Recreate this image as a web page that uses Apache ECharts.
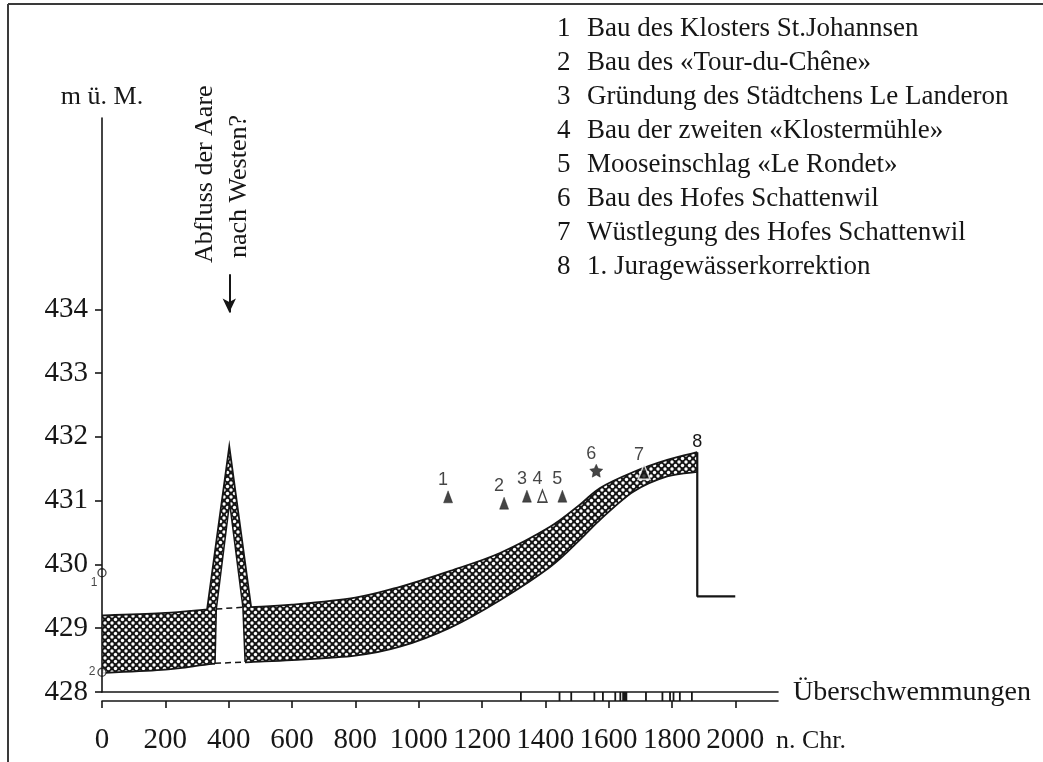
<!DOCTYPE html>
<html><head><meta charset="utf-8">
<script src="https://cdn.jsdelivr.net/npm/echarts@6/dist/echarts.min.js"></script>
<style>html,body{margin:0;padding:0;background:#fff}#c{width:1043px;height:762px}</style>
</head><body><div id="c"></div>
<script>
// ---------- data ----------
const bandYears = [0, 200, 350, 470, 600, 800, 941, 1100, 1257, 1415, 1510, 1573, 1678, 1785, 1880];
const bandLower = [428.30, 428.35, 428.44, 428.47, 428.50, 428.57, 428.71, 429.01, 429.44, 429.96, 430.39, 430.70, 431.14, 431.38, 431.45];
const bandUpper = [429.20, 429.24, 429.30, 429.33, 429.37, 429.48, 429.65, 429.90, 430.18, 430.59, 430.94, 431.20, 431.45, 431.64, 431.76];
const peakOuter = [[332, 429.30], [402, 431.85], [471, 429.33]];
const peakInner = [[357, 428.45], [361, 429.30], [403, 430.97], [445, 429.33], [452, 428.47]];
const stepLine = [[1880, 431.76], [1880, 429.50], [2000, 429.50]];
const eventYears = [1093, 1270, 1342, 1391, 1454, 1561, 1712];
const eventLevels = [431.06, 430.96, 431.07, 431.07, 431.07, 431.47, 431.45];
const eventNums = ['1', '2', '3', '4', '5', '6', '7'];
const eventKinds = ['filled', 'filled', 'filled', 'open', 'filled', 'star', 'filled'];
const axisMarkLevels = [429.87, 428.31];
const axisMarkNums = ['1', '2'];
const floodYears = [1323, 1445, 1482, 1555, 1582, 1621, 1637, 1718, 1770, 1794, 1805, 1825, 1863];
const floodPeriods = [[1643, 1659]];
const yTicks = [428, 429, 430, 431, 432, 433, 434];
const xTicks = [0, 200, 400, 600, 800, 1000, 1200, 1400, 1600, 1800, 2000];
const legendLines = [
  'Bau des Klosters St.Johannsen',
  'Bau des «Tour-du-Chêne»',
  'Gründung des Städtchens Le Landeron',
  'Bau der zweiten «Klostermühle»',
  'Mooseinschlag «Le Rondet»',
  'Bau des Hofes Schattenwil',
  'Wüstlegung des Hofes Schattenwil',
  '1. Juragewässerkorrektion'
];
const arrowYear = 402, arrowFrom = 434.55, arrowTo = 433.95;

// ---------- styles ----------
const INK = '#161616';
const SERIF = '"Liberation Serif", "DejaVu Serif", serif';
const SANS = '"Liberation Sans", Arial, sans-serif';

function makePattern() {
  const c = document.createElement('canvas');
  c.width = 7; c.height = 7;
  const g = c.getContext('2d');
  g.fillStyle = INK; g.fillRect(0, 0, 7, 7);
  g.fillStyle = '#fff';
  [[0, 0], [7, 0], [0, 7], [7, 7], [3.5, 3.5]].forEach(([x, y]) => {
    g.beginPath(); g.arc(x, y, 1.7, 0, Math.PI * 2); g.fill();
  });
  return c;
}
const hatch = { image: makePattern(), repeat: 'repeat' };
const STAR = 'path://M0,-10 L2.9,-4 L9.5,-3.1 L4.7,1.5 L5.9,8.1 L0,5 L-5.9,8.1 L-4.7,1.5 L-9.5,-3.1 L-2.9,-4 Z';

// smooth curve through pixel points (Catmull-Rom as cubic Bezier)
function splinePath(pts, start) {
  let d = (start ? 'M' : 'L') + pts[0][0] + ',' + pts[0][1];
  for (let i = 0; i < pts.length - 1; i++) {
    const p0 = pts[Math.max(i - 1, 0)], p1 = pts[i], p2 = pts[i + 1], p3 = pts[Math.min(i + 2, pts.length - 1)];
    const c1 = [p1[0] + (p2[0] - p0[0]) / 6, p1[1] + (p2[1] - p0[1]) / 6];
    const c2 = [p2[0] - (p3[0] - p1[0]) / 6, p2[1] - (p3[1] - p1[1]) / 6];
    d += ' C' + c1[0] + ',' + c1[1] + ' ' + c2[0] + ',' + c2[1] + ' ' + p2[0] + ',' + p2[1];
  }
  return d;
}

const chart = echarts.init(document.getElementById('c'), null, { renderer: 'canvas' });

const graphics = [
  { type: 'line', shape: { x1: 8, y1: 4, x2: 8, y2: 762 }, style: { stroke: '#3a3a3a', lineWidth: 2 } },
  { type: 'line', shape: { x1: 8, y1: 4, x2: 1043, y2: 4 }, style: { stroke: '#3a3a3a', lineWidth: 2 } },
  { type: 'text', x: 205, y: 263, rotation: Math.PI / 2,
    style: { text: 'Abfluss der Aare', font: '26px ' + SERIF, fill: INK, textAlign: 'left', textVerticalAlign: 'middle' } },
  { type: 'text', x: 239, y: 258, rotation: Math.PI / 2,
    style: { text: 'nach Westen?', font: '26px ' + SERIF, fill: INK, textAlign: 'left', textVerticalAlign: 'middle' } },
  { type: 'text', x: 793, y: 693,
    style: { text: 'Überschwemmungen', font: '28px ' + SERIF, fill: INK, textAlign: 'left', textVerticalAlign: 'middle' } },
  { type: 'text', x: 776, y: 741,
    style: { text: 'n. Chr.', font: '26px ' + SERIF, fill: INK, textAlign: 'left', textVerticalAlign: 'middle' } }
];
legendLines.forEach((t, i) => {
  graphics.push({ type: 'text', x: 557, y: 29 + i * 34,
    style: { text: String(i + 1), font: '27px ' + SERIF, fill: INK, textAlign: 'left', textVerticalAlign: 'middle' } });
  graphics.push({ type: 'text', x: 587, y: 29 + i * 34,
    style: { text: t, font: '27px ' + SERIF, fill: INK, textAlign: 'left', textVerticalAlign: 'middle' } });
});

const lineW = 1.8;

const option = {
  animation: false,
  backgroundColor: '#fff',
  graphic: graphics,
  grid: [
    { left: 102, top: 118, width: 676, height: 574 },
    { left: 102, top: 692, width: 676, height: 9 }
  ],
  xAxis: [
    { type: 'value', gridIndex: 0, min: 0, max: 2135, interval: 200, z: 10,
      axisLine: { show: true, lineStyle: { color: INK, width: 1.6 } },
      axisTick: { show: false }, axisLabel: { show: false }, splitLine: { show: false } },
    { type: 'value', gridIndex: 1, min: 0, max: 2135, interval: 200, z: 10,
      axisLine: { show: true, lineStyle: { color: INK, width: 1.6 } },
      axisTick: { show: true, length: 7, customValues: xTicks, lineStyle: { color: INK, width: 1.6 } },
      axisLabel: { show: true, customValues: xTicks, margin: 25, color: INK, fontSize: 29, fontFamily: SERIF,
                   formatter: v => String(v) },
      splitLine: { show: false } }
  ],
  yAxis: [
    { type: 'value', gridIndex: 0, min: 428, max: 437, interval: 1, z: 10,
      name: 'm ü. M.', nameLocation: 'end', nameGap: 21,
      nameTextStyle: { color: INK, fontSize: 26, fontFamily: SERIF, align: 'center', verticalAlign: 'middle' },
      axisLine: { show: true, lineStyle: { color: INK, width: 1.6 } },
      axisTick: { show: true, length: 7, customValues: yTicks, lineStyle: { color: INK, width: 1.6 } },
      axisLabel: { show: true, customValues: yTicks, margin: 14, color: INK, fontSize: 29, fontFamily: SERIF,
                   formatter: v => String(v) },
      splitLine: { show: false } },
    { type: 'value', gridIndex: 1, min: 0, max: 1, show: false }
  ],
  series: [
    { type: 'custom', name: 'band', xAxisIndex: 0, yAxisIndex: 0, z: 2, silent: true,
      data: [[bandYears[0], bandUpper[0]]],
      renderItem: function (params, api) {
        const up = bandYears.map((x, i) => api.coord([x, bandUpper[i]]));
        const lo = bandYears.map((x, i) => api.coord([x, bandLower[i]]));
        const fillD = splinePath(up, true) + ' ' + splinePath(lo.slice().reverse(), false) + ' Z';
        return { type: 'group', children: [
          { type: 'path', shape: { pathData: fillD }, style: { fill: hatch, stroke: null } },
          { type: 'path', shape: { pathData: splinePath(up, true) }, style: { fill: 'none', stroke: INK, lineWidth: lineW } },
          { type: 'path', shape: { pathData: splinePath(lo, true) }, style: { fill: 'none', stroke: INK, lineWidth: lineW } }
        ] };
      } },
    { type: 'custom', name: 'peak', xAxisIndex: 0, yAxisIndex: 0, z: 3, silent: true,
      data: [[peakOuter[1][0], peakOuter[1][1]]],
      renderItem: function (params, api) {
        const P = p => api.coord(p);
        const o = peakOuter, n = peakInner;
        const outerPoly = [P([o[0][0], o[0][1] - 0.06]), P(o[0]), P(o[1]), P(o[2]), P([o[2][0], o[2][1] - 0.06])];
        const innerPoly = [P([n[0][0], n[0][1] - 0.05]), P(n[1]), P(n[2]), P(n[3]), P([n[4][0], n[4][1] - 0.05])];
        return { type: 'group', children: [
          { type: 'polygon', shape: { points: outerPoly }, style: { fill: hatch, stroke: null } },
          { type: 'polyline', shape: { points: [P(o[0]), P(o[1]), P(o[2])] }, style: { stroke: INK, lineWidth: lineW, fill: null } },
          { type: 'polygon', shape: { points: innerPoly }, style: { fill: '#fff', stroke: null } },
          { type: 'polyline', shape: { points: n.map(P) }, style: { stroke: INK, lineWidth: 1.5, fill: null } },
          { type: 'line', shape: { x1: P(n[1])[0], y1: P(n[1])[1], x2: P(n[3])[0], y2: P(n[3])[1] },
            style: { stroke: INK, lineWidth: 1.5, lineDash: [6, 4] } },
          { type: 'line', shape: { x1: P(n[0])[0], y1: P(n[0])[1], x2: P(n[4])[0], y2: P(n[4])[1] },
            style: { stroke: INK, lineWidth: 1.5, lineDash: [6, 4] } }
        ] };
      } },
    { type: 'line', name: 'step', xAxisIndex: 0, yAxisIndex: 0, z: 4,
      symbol: 'circle', symbolSize: 0, showSymbol: true,
      lineStyle: { color: INK, width: 2.2 },
      data: stepLine.map((p, i) => i === 0 ? { value: p, label: { show: true, formatter: '8', position: 'top', distance: 1, color: INK, fontSize: 18, fontFamily: SANS } } : p),
      markLine: { silent: true, symbol: ['none', 'arrow'], symbolSize: [10, 14],
        label: { show: false },
        lineStyle: { color: INK, width: 2, type: 'solid' },
        data: [[{ coord: [arrowYear, arrowFrom] }, { coord: [arrowYear, arrowTo] }]] } },
    { type: 'scatter', name: 'events', xAxisIndex: 0, yAxisIndex: 0, z: 5,
      data: eventYears.map((x, i) => {
        const k = eventKinds[i];
        const onBand = i === eventYears.length - 1;
        return {
          value: [x, eventLevels[i]],
          symbol: k === 'star' ? STAR : 'triangle',
          symbolSize: k === 'star' ? [13, 13] : (onBand ? [12, 15] : [9, 12]),
          itemStyle: k === 'open' ? { color: '#fff', borderColor: INK, borderWidth: 1.5 }
                   : { color: INK, borderColor: onBand ? '#fff' : INK, borderWidth: onBand ? 1.6 : 0.5 },
          label: { show: true, formatter: eventNums[i], position: 'inside', offset: [-5, -17],
                   color: INK, fontSize: 18, fontFamily: SANS }
        };
      }) },
    { type: 'scatter', name: 'axismarks', xAxisIndex: 0, yAxisIndex: 0, z: 6,
      symbol: 'circle', symbolSize: 8,
      itemStyle: { color: '#fff', borderColor: INK, borderWidth: 1.3 },
      data: axisMarkLevels.map((v, i) => ({ value: [0, v],
        label: { show: true, formatter: axisMarkNums[i], position: 'inside', offset: i === 0 ? [-8, 10] : [-10, -1],
                 color: INK, fontSize: 12, fontFamily: SANS } })) },
    { type: 'custom', name: 'floods', xAxisIndex: 1, yAxisIndex: 1, z: 5, silent: true,
      data: floodYears.map(y => [y, y]).concat(floodPeriods.map(p => [p[0], p[1]])),
      renderItem: function (params, api) {
        const a = api.coord([api.value(0), 1]);
        const b = api.coord([api.value(1), 0]);
        if (api.value(0) === api.value(1)) {
          return { type: 'line', shape: { x1: a[0], y1: a[1], x2: a[0], y2: b[1] }, style: { stroke: INK, lineWidth: 1.8 } };
        }
        return { type: 'rect', shape: { x: a[0], y: a[1], width: b[0] - a[0], height: b[1] - a[1] }, style: { fill: INK } };
      } }
  ]
};
chart.setOption(option);
</script></body></html>
